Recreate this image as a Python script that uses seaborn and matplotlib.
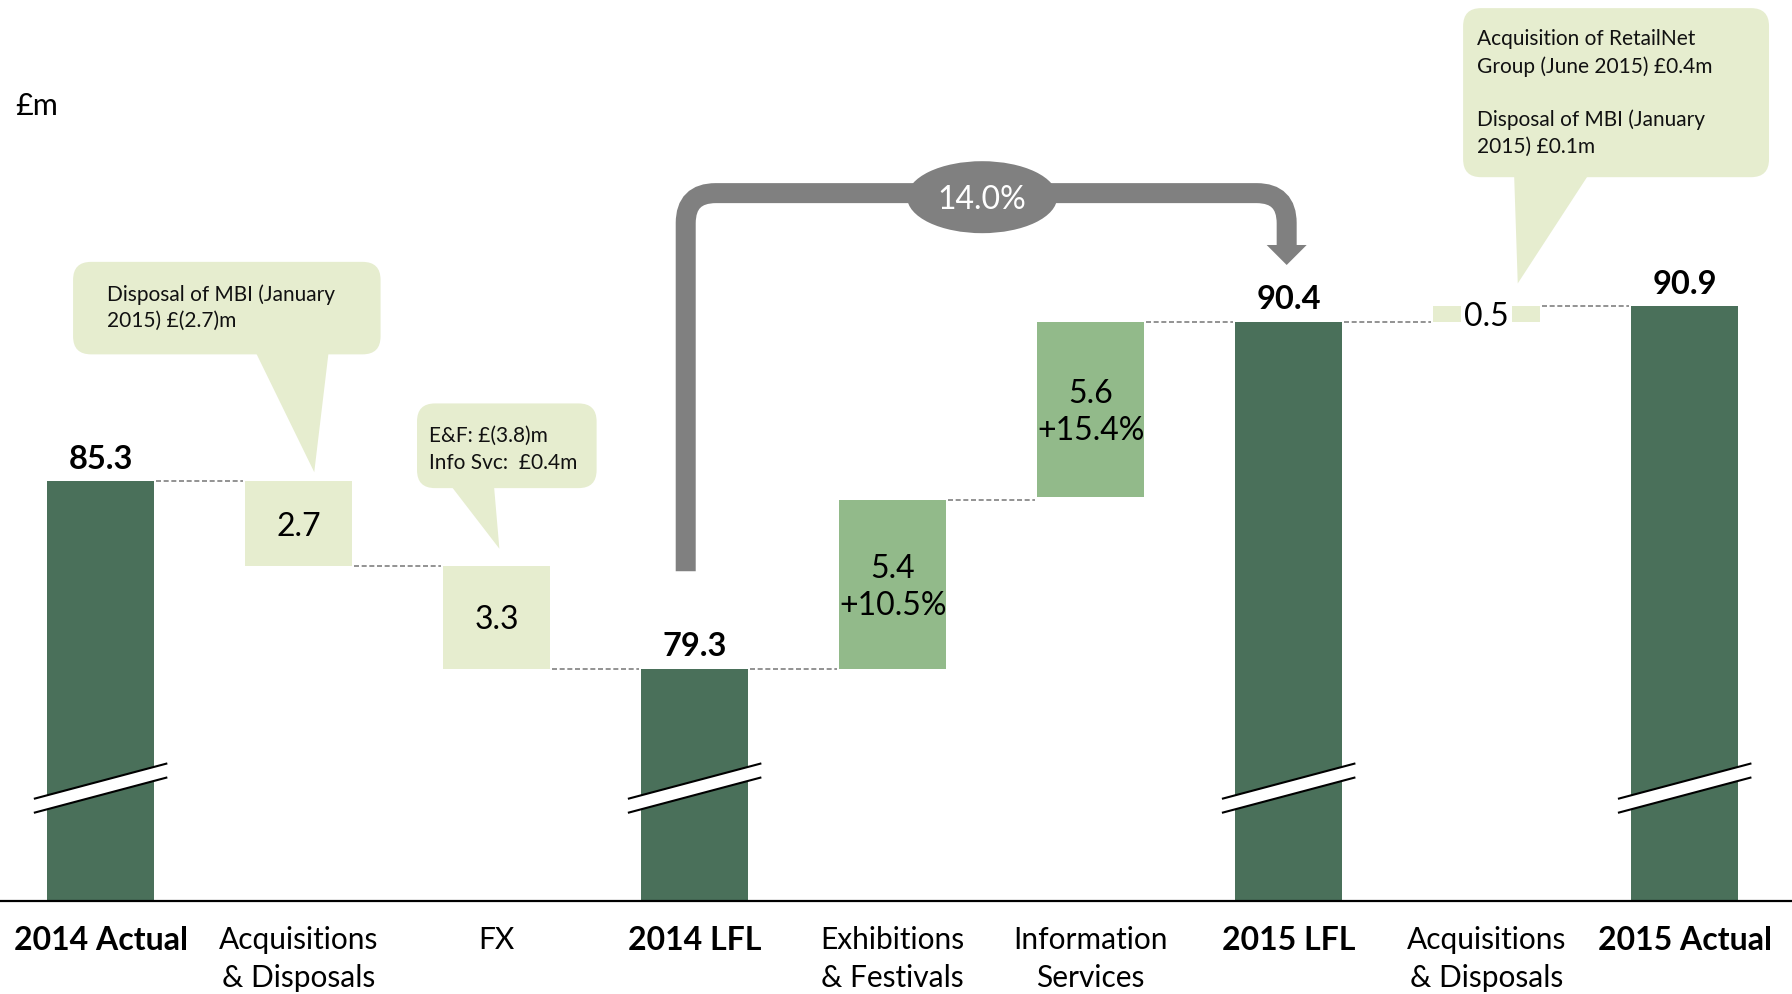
import numpy as np
import pandas as pd
import matplotlib
matplotlib.use("Agg")
import matplotlib.pyplot as plt
from matplotlib.patches import Polygon, Ellipse, FancyBboxPatch, PathPatch
from matplotlib.path import Path
import seaborn as sns

# ---- data: adjusted operating profit bridge, £m ----
tick_labels = ["2014 Actual", "Acquisitions\n& Disposals", "FX", "2014 LFL",
               "Exhibitions\n& Festivals", "Information\nServices", "2015 LFL",
               "Acquisitions\n& Disposals", "2015 Actual"]
values = [85.3, 2.7, 3.3, 79.3, 5.4, 5.6, 90.4, 0.5, 90.9]
direction = [0, -1, -1, 0, 1, 1, 0, 1, 0]          # 0 = total, -1 = reduction, +1 = addition
kinds = ["total", "adjustment", "adjustment", "total", "growth", "growth",
         "total", "adjustment", "total"]
growth_pct = ["", "", "", "", "+10.5%", "+15.4%", "", "", ""]
lfl_growth = "14.0%"
notes = [
    "Disposal of MBI (January\n2015) £(2.7)m",
    "E&F: £(3.8)m\nInfo Svc:  £0.4m",
    "Acquisition of RetailNet\nGroup (June 2015) £0.4m\n\nDisposal of MBI (January\n2015) £0.1m",
]

palette = {"total": "#4A705A", "growth": "#92BA8A", "adjustment": "#E6EDCF"}
PALE = palette["adjustment"]
GREY = "#808080"

# running levels of the waterfall
bottoms, ends = [], []
level = 0.0
for v, d in zip(values, direction):
    if d == 0:
        b = 0.0
        level = v
    elif d < 0:
        b = level - v
        level = b
    else:
        b = level
        level = level + v
    bottoms.append(b)
    ends.append(level)
# a step right before a total closes onto that total (absorbs rounding)
for i in range(len(values) - 1):
    if direction[i] > 0 and direction[i + 1] == 0:
        bottoms[i] = values[i + 1] - values[i]
        ends[i] = values[i + 1]

sns.set_theme(style="white")
plt.rcParams["font.family"] = ["Lato", "DejaVu Sans"]

W, H = 1792, 994
fig = plt.figure(figsize=(W / 100, H / 100), dpi=100)
ax = fig.add_axes([0, 93.4 / H, 1, 900.6 / H])

BAR_W = 0.542
df = pd.DataFrame({"step": np.arange(len(values)), "value": values, "kind": kinds})
sns.barplot(data=df, x="step", y="value", hue="kind", palette=palette,
            hue_order=["total", "growth", "adjustment"], width=BAR_W,
            saturation=1, errorbar=None, legend=False, linewidth=0, ax=ax)

# float the non-total bars on their running level
for patch in ax.patches:
    i = int(round(patch.get_x() + patch.get_width() / 2))
    patch.set_y(bottoms[i])
    patch.set_zorder(2)

ax.set_xlim(-0.508, 8.542)
ax.set_ylim(71.88, 100.70)
PX_X = W / (ax.get_xlim()[1] - ax.get_xlim()[0])        # pixels per category
PX_Y = 900.6 / (ax.get_ylim()[1] - ax.get_ylim()[0])    # pixels per £m
ASPECT = PX_X / PX_Y

for s in ["left", "right", "top"]:
    ax.spines[s].set_visible(False)
ax.spines["bottom"].set_color("black")
ax.spines["bottom"].set_linewidth(1.6)
ax.set_yticks([])
ax.set_xlabel("")
ax.set_ylabel("")
ax.set_xticks(range(len(values)))
ax.set_xticklabels(tick_labels)
for lbl, d in zip(ax.get_xticklabels(), direction):
    if d == 0:
        lbl.set_fontweight("bold")
        lbl.set_fontsize(23)
    else:
        lbl.set_fontsize(21.5)
    lbl.set_linespacing(1.47)
    lbl.set_color("black")
ax.tick_params(axis="x", length=0, pad=18)

# dashed connectors between consecutive bars
for i in range(len(values) - 1):
    ax.plot([i + BAR_W / 2 + 0.01, i + 1 - BAR_W / 2 - 0.01], [ends[i], ends[i]],
            color=GREY, lw=1.2, ls=(0, (3, 1.6)), zorder=1)

# value labels
for i, (v, d, b) in enumerate(zip(values, direction, bottoms)):
    if d == 0:
        ax.annotate(f"{v:.1f}", (i, v), xytext=(0, 9), textcoords="offset points",
                    ha="center", va="baseline", fontsize=23.5, fontweight="bold",
                    color="black", zorder=6)
    elif v < 1:
        ax.text(i, b + v / 2, f"{v:.1f}", ha="center", va="center_baseline", fontsize=23,
                color="black", zorder=6,
                bbox=dict(boxstyle="square,pad=0.1", fc="white", ec="none"))
    else:
        txt = f"{v:.1f}" + (f"\n{growth_pct[i]}" if growth_pct[i] else "")
        ax.text(i, b + v / 2 - 0.1, txt, ha="center", va="center", fontsize=23,
                color="black", linespacing=1.3, zorder=6)

# axis-break marks on the total bars
half_w, half_rise, gap, yc = 0.337, 0.567, 0.224, 75.48
for i, d in enumerate(direction):
    if d != 0:
        continue
    xs = np.array([i - half_w, i + half_w])
    up = yc + gap + np.array([-half_rise, half_rise])
    lo = yc - gap + np.array([-half_rise, half_rise])
    ax.add_patch(Polygon([(xs[0], lo[0]), (xs[1], lo[1]), (xs[1], up[1]), (xs[0], up[0])],
                         closed=True, fc="white", ec="none", zorder=3, clip_on=False))
    ax.plot(xs, up, color="black", lw=1.5, zorder=4, solid_capstyle="butt")
    ax.plot(xs, lo, color="black", lw=1.5, zorder=4, solid_capstyle="butt")


def callout(text, box, base, tip, text_x, text_y, fontsize=15):
    x0, x1, y0, y1 = box
    r = 18 / PX_X
    ax.add_patch(FancyBboxPatch((x0, y0), x1 - x0, y1 - y0,
                                boxstyle=f"round,pad=0,rounding_size={r}",
                                mutation_aspect=ASPECT, fc=PALE, ec="none",
                                zorder=5, clip_on=False))
    ax.add_patch(Polygon([(base[0], y0 + 0.2), (base[1], y0 + 0.2), tip], closed=True,
                         fc=PALE, ec="none", zorder=5, clip_on=False))
    ax.text(text_x, text_y, text, ha="left", va="center", fontsize=fontsize,
            color="#111111", linespacing=1.4, zorder=6)


callout(notes[0], (-0.139, 1.414, 89.36, 92.32), (0.773, 1.154), (1.079, 85.59), 0.032, 90.85)
callout(notes[1], (1.598, 2.505, 85.08, 87.79), (1.754, 1.985), (2.014, 83.14), 1.657, 86.32)
callout(notes[2], (6.881, 8.426, 95.03, 100.44), (7.138, 7.527), (7.157, 91.63), 6.952, 97.72)

# like-for-like growth bracket from 2014 LFL to 2015 LFL
xl, xr = 2.955, 5.99
yb, yt, yh, ytip = 82.42, 94.52, 92.86, 92.22
rx, ry = 30 / PX_X, 30 / PX_Y
verts = [(xl, yb), (xl, yt - ry), (xl, yt), (xl + rx, yt), (xr - rx, yt),
         (xr, yt), (xr, yt - ry), (xr, yh - 0.05)]
codes = [Path.MOVETO, Path.LINETO, Path.CURVE3, Path.CURVE3, Path.LINETO,
         Path.CURVE3, Path.CURVE3, Path.LINETO]
ax.add_patch(PathPatch(Path(verts, codes), fill=False, ec=GREY, lw=14.4,
                       capstyle="butt", joinstyle="miter", zorder=5, clip_on=False))
hw = 20 / PX_X
ax.add_patch(Polygon([(xr - hw, yh), (xr + hw, yh), (xr, ytip)], closed=True,
                     fc=GREY, ec="none", zorder=5, clip_on=False))
ex, ey = 4.452, 94.39
ax.add_patch(Ellipse((ex, ey), 150 / PX_X, 72 / PX_Y, fc=GREY, ec="none", zorder=6))
ax.text(ex, ey, lfl_growth, ha="center", va="center_baseline", fontsize=23,
        color="white", zorder=7)

# unit label
ax.text(-0.432, 97.4, "£m", ha="left", va="center_baseline", fontsize=22, color="black")

fig.savefig("out.png", dpi=100)
